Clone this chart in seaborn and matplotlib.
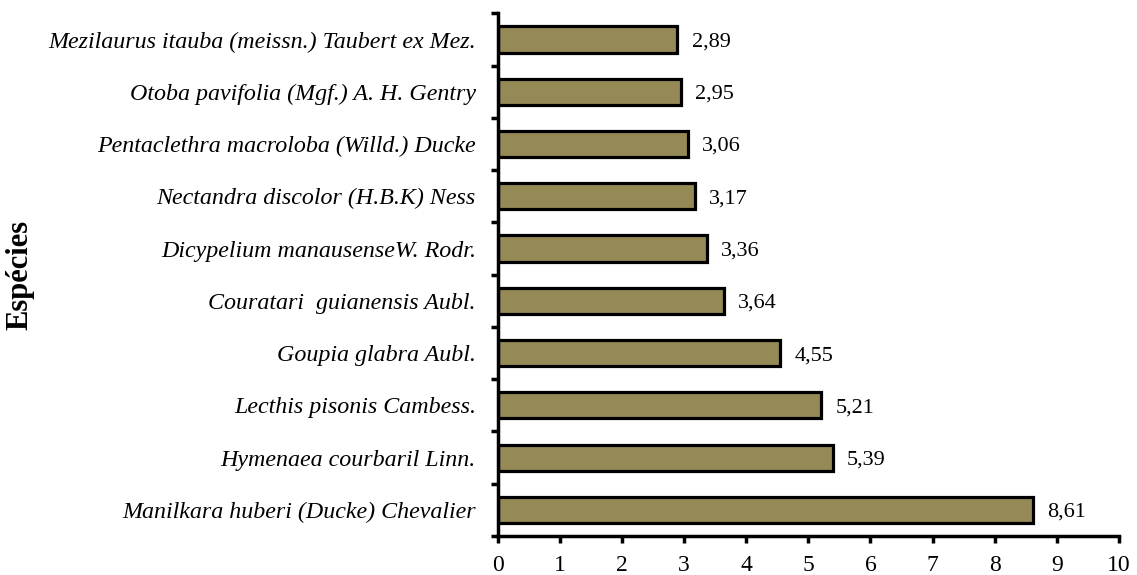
import numpy as np
import pandas as pd
import matplotlib
matplotlib.use("Agg")
import matplotlib.pyplot as plt
import seaborn as sns

# Data
SPECIES = [
    "Mezilaurus itauba (meissn.) Taubert ex Mez.",
    "Otoba pavifolia (Mgf.) A. H. Gentry",
    "Pentaclethra macroloba (Willd.) Ducke",
    "Nectandra discolor (H.B.K) Ness",
    "Dicypelium manausenseW. Rodr.",
    "Couratari  guianensis Aubl.",
    "Goupia glabra Aubl.",
    "Lecthis pisonis Cambess.",
    "Hymenaea courbaril Linn.",
    "Manilkara huberi (Ducke) Chevalier",
]
VALUES = [2.89, 2.95, 3.06, 3.17, 3.36, 3.64, 4.55, 5.21, 5.39, 8.61]
X_TICKS = list(range(0, 11))

BAR_COLOR = "#958a56"

sns.set_style("ticks")
plt.rcParams["font.family"] = ["Liberation Serif", "DejaVu Serif"]
plt.rcParams["text.color"] = "black"
plt.rcParams["axes.labelcolor"] = "black"
plt.rcParams["xtick.color"] = "black"
plt.rcParams["ytick.color"] = "black"
plt.rcParams["axes.edgecolor"] = "black"

df = pd.DataFrame({"Espécie": SPECIES, "Valor": VALUES})

fig = plt.figure(figsize=(11.37, 5.75), dpi=100)
ax = fig.add_axes([0.438, 0.0678, 0.546, 0.909])

sns.barplot(data=df, x="Valor", y="Espécie", orient="h", color=BAR_COLOR,
            edgecolor="black", linewidth=2.3, width=0.5, saturation=1, ax=ax)

# value labels
for i, v in enumerate(VALUES):
    ax.text(v + 0.23, i, f"{v:.2f}".replace(".", ","), va="center_baseline",
            ha="left", fontsize=16, color="black")

ax.set_xlim(0, 10)
ax.set_ylim(len(SPECIES) - 0.5, -0.5)
ax.set_xticks(X_TICKS)
ax.set_xticklabels([str(t) for t in X_TICKS], fontsize=17)

# category labels, ticks between categories
ax.set_yticks(range(len(SPECIES)))
ax.set_yticklabels(SPECIES, fontsize=17.3, style="italic")
for lbl in ax.get_yticklabels():
    lbl.set_va("center_baseline")
ax.set_yticks(np.arange(-0.5, len(SPECIES), 1), minor=True)
ax.tick_params(axis="y", which="major", length=0, pad=16)
ax.tick_params(axis="y", which="minor", length=5, width=2.5, direction="out")
ax.tick_params(axis="x", which="major", length=5, width=2.5, direction="out", pad=9)

ax.set_xlabel("")
ax.set_ylabel("Espécies", fontsize=22, fontweight="bold")
ax.yaxis.set_label_coords(-0.747, 0.5)

sns.despine(ax=ax)
for side in ["left", "bottom"]:
    ax.spines[side].set_linewidth(2.5)

fig.savefig("out.png", dpi=100)
